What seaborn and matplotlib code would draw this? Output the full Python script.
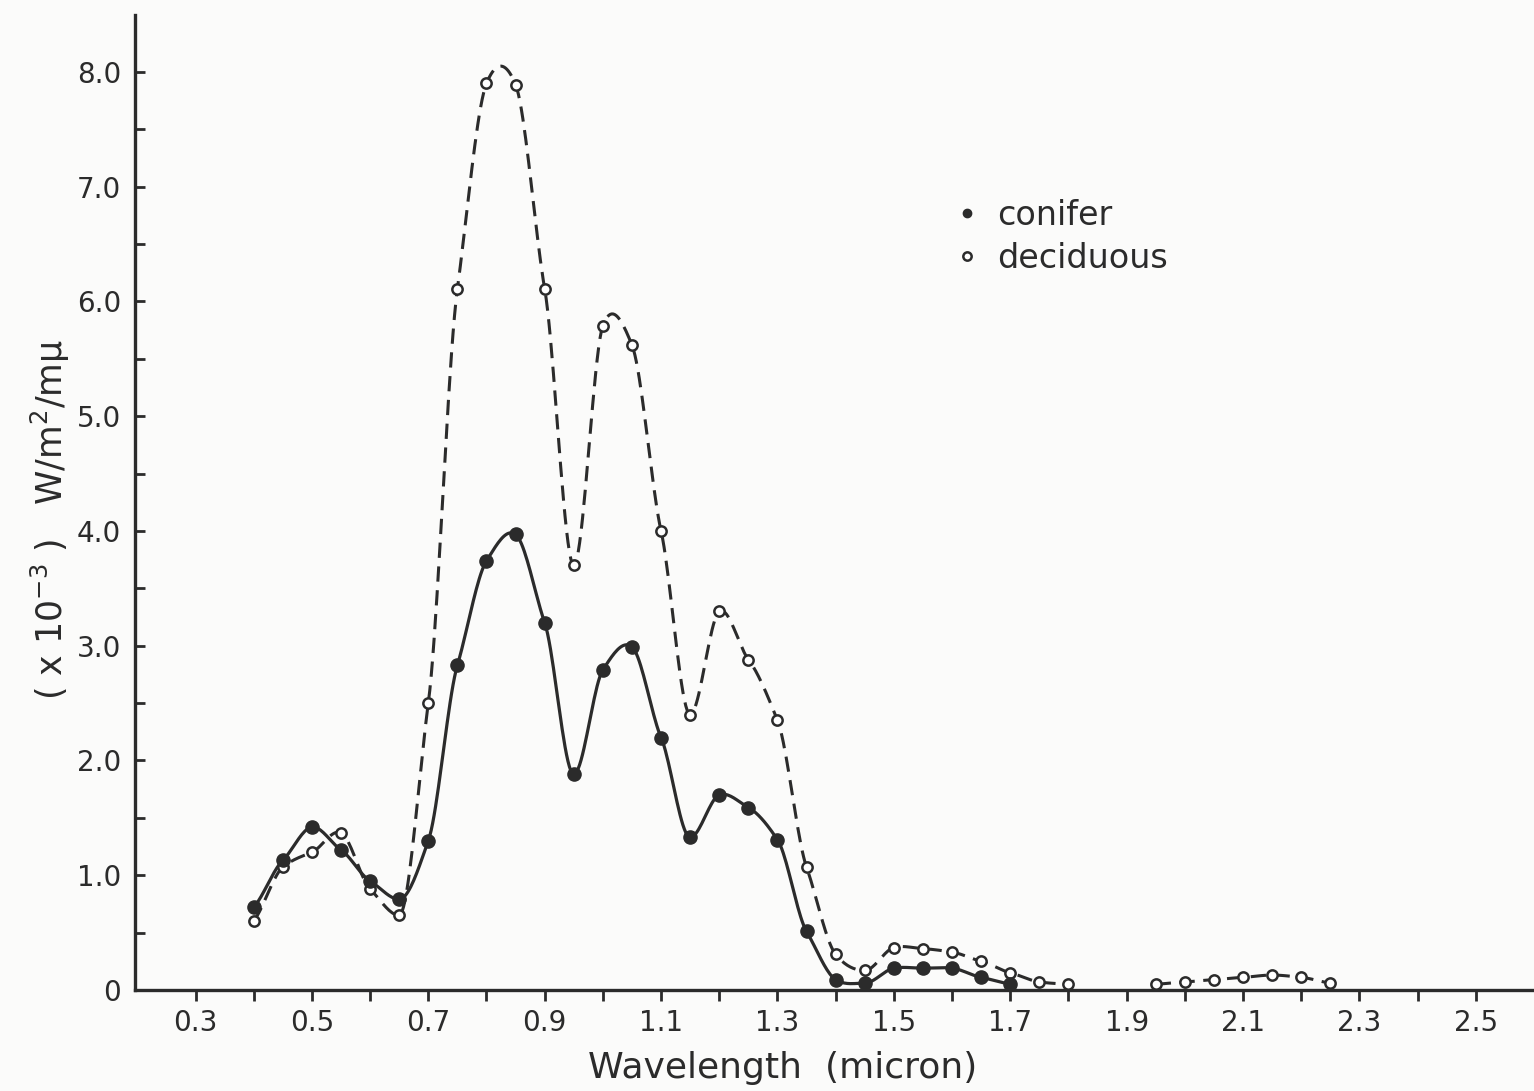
import matplotlib
matplotlib.use("Agg")
import matplotlib.pyplot as plt
from matplotlib.lines import Line2D
from matplotlib.ticker import FixedLocator
import seaborn as sns
import numpy as np

# values (units of 1e-3 W/m2/mu)
conifer_wl = [0.40, 0.45, 0.50, 0.55, 0.60, 0.65, 0.70, 0.75, 0.80, 0.85,
              0.90, 0.95, 1.00, 1.05, 1.10, 1.15, 1.20, 1.25, 1.30, 1.35,
              1.40, 1.45, 1.50, 1.55, 1.60, 1.65, 1.70]
conifer = [0.72, 1.13, 1.42, 1.22, 0.95, 0.79, 1.30, 2.83, 3.74, 3.97,
           3.20, 1.88, 2.79, 2.99, 2.20, 1.33, 1.70, 1.59, 1.31, 0.51,
           0.09, 0.06, 0.19, 0.19, 0.19, 0.11, 0.05]

deciduous_wl = [0.40, 0.45, 0.50, 0.55, 0.60, 0.65, 0.70, 0.75, 0.80, 0.85,
                0.90, 0.95, 1.00, 1.05, 1.10, 1.15, 1.20, 1.25, 1.30, 1.35,
                1.40, 1.45, 1.50, 1.55, 1.60, 1.65, 1.70, 1.75, 1.80]
deciduous = [0.60, 1.07, 1.20, 1.37, 0.88, 0.65, 2.50, 6.11, 7.90, 7.89,
             6.11, 3.70, 5.79, 5.62, 4.00, 2.40, 3.30, 2.88, 2.35, 1.07,
             0.31, 0.17, 0.37, 0.36, 0.33, 0.25, 0.15, 0.07, 0.05]

# second (far infrared) stretch of the deciduous curve
deciduous_far_wl = [1.95, 2.00, 2.05, 2.10, 2.15, 2.20, 2.25]
deciduous_far = [0.05, 0.07, 0.09, 0.11, 0.13, 0.11, 0.06]

x_major = [0.3, 0.5, 0.7, 0.9, 1.1, 1.3, 1.5, 1.7, 1.9, 2.1, 2.3, 2.5]
x_minor = [0.4, 0.6, 0.8, 1.0, 1.2, 1.4, 1.6, 1.8, 2.0, 2.2, 2.4]
y_major = [0, 1, 2, 3, 4, 5, 6, 7, 8]
y_minor = [0.5, 1.5, 2.5, 3.5, 4.5, 5.5, 6.5, 7.5]
y_labels = ["0", "1.0", "2.0", "3.0", "4.0", "5.0", "6.0", "7.0", "8.0"]

INK = "#2b2b2b"


def smooth(xs, ys, n=20, tension=0.7):
    # hand drawn look: cubic hermite through the points (only for the line)
    xs = np.asarray(xs, float)
    ys = np.asarray(ys, float)
    m = np.gradient(ys, xs) * tension
    d = np.diff(ys)
    for i in range(1, len(ys) - 1):
        if d[i - 1] < 0 and d[i] > 0:   # valleys sit on the point
            m[i] = 0.0
    ox, oy = [], []
    for i in range(len(xs) - 1):
        h = xs[i + 1] - xs[i]
        t = np.linspace(0, 1, n, endpoint=False)
        h00 = 2 * t**3 - 3 * t**2 + 1
        h10 = t**3 - 2 * t**2 + t
        h01 = -2 * t**3 + 3 * t**2
        h11 = t**3 - t**2
        ox.append(xs[i] + t * h)
        oy.append(h00 * ys[i] + h10 * h * m[i] + h01 * ys[i + 1] + h11 * h * m[i + 1])
    ox.append([xs[-1]])
    oy.append([ys[-1]])
    return np.concatenate(ox), np.clip(np.concatenate(oy), 0, None)


sns.set_theme(style="ticks")
plt.rcParams["font.family"] = ["DejaVu Sans"]

fig = plt.figure(figsize=(15.34, 10.91), dpi=100, facecolor="#fbfbfa")
ax = fig.add_axes([0.088, 0.0926, 0.912, 0.894])
ax.set_facecolor("#fbfbfa")

for wl, val in [(deciduous_wl, deciduous), (deciduous_far_wl, deciduous_far)]:
    sx, sy = smooth(wl, val)
    ln, = ax.plot(sx, sy, color=INK, lw=2.2, linestyle="--")
    ln.set_dashes([5, 2.8])

sx, sy = smooth(conifer_wl, conifer)
ax.plot(sx, sy, color=INK, lw=2.3, linestyle="-")

sns.scatterplot(x=deciduous_wl + deciduous_far_wl, y=deciduous + deciduous_far,
                ax=ax, marker="o", s=55, facecolor="white", edgecolor=INK,
                linewidth=1.8, zorder=4)
sns.scatterplot(x=conifer_wl, y=conifer, ax=ax, marker="o", s=90,
                color=INK, edgecolor=INK, linewidth=1, zorder=5)

ax.set_xlim(0.196, 2.6)
ax.set_ylim(0, 8.5)

ax.xaxis.set_major_locator(FixedLocator(x_major))
ax.xaxis.set_minor_locator(FixedLocator(x_minor))
ax.set_xticklabels([f"{v:.1f}" for v in x_major])
ax.yaxis.set_major_locator(FixedLocator(y_major))
ax.yaxis.set_minor_locator(FixedLocator(y_minor))
ax.set_yticklabels(y_labels)

ax.tick_params(axis="x", which="both", direction="out", length=8, width=2,
               color=INK, labelsize=20, labelcolor=INK, pad=6)
ax.tick_params(axis="y", which="both", direction="in", length=7, width=2,
               color=INK, labelsize=20, labelcolor=INK, pad=10)

sns.despine(ax=ax)
for side in ["left", "bottom"]:
    ax.spines[side].set_linewidth(2.4)
    ax.spines[side].set_color(INK)

ax.set_xlabel("Wavelength  (micron)", fontsize=26, color=INK, va="center")
ax.xaxis.set_label_coords(0.463, -0.08)
ax.set_ylabel("( x 10$^{-3}$ )   W/m$^{2}$/mμ", fontsize=25, color=INK)
ax.yaxis.set_label_coords(-0.045, 0.482)

handles = [
    Line2D([], [], marker="o", linestyle="none", markersize=6,
           markerfacecolor=INK, markeredgecolor=INK),
    Line2D([], [], marker="o", linestyle="none", markersize=6,
           markerfacecolor="white", markeredgecolor=INK, markeredgewidth=1.8),
]
ax.legend(handles, ["conifer", "deciduous"], loc="upper left",
          bbox_to_anchor=(0.566, 0.842), frameon=False, fontsize=24,
          handlelength=0.6, handletextpad=0.6, labelspacing=0.3,
          labelcolor=INK)

fig.savefig("out.png", dpi=100, facecolor=fig.get_facecolor())
